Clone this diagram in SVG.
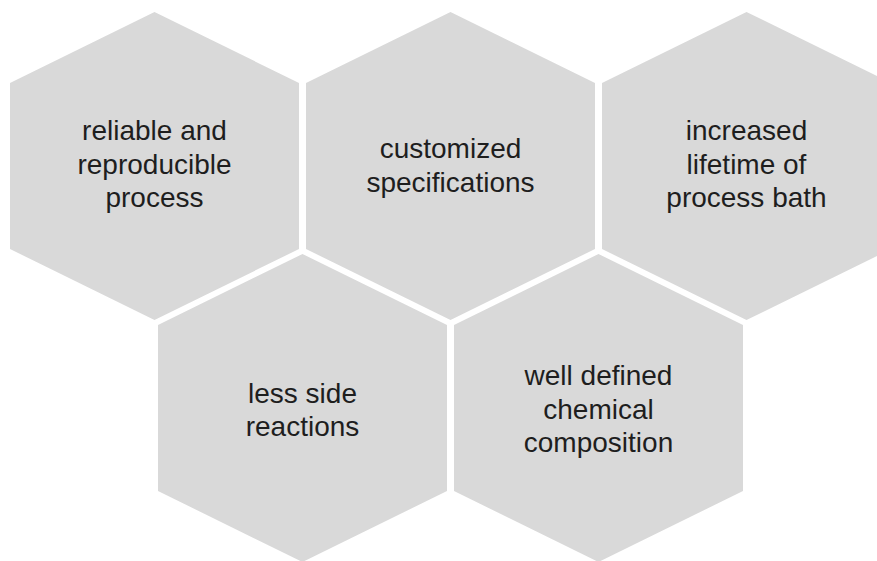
<svg xmlns="http://www.w3.org/2000/svg" xmlns:xlink="http://www.w3.org/1999/xlink" width="877" height="561" viewBox="0 0 877 561">
  <style>
    .hex { fill: #d9d9d9; }
    .lbl { font-family: "Liberation Sans", Arial, sans-serif; font-size: 28px; fill: #1e1e1e; text-anchor: middle; }
  </style>
  <defs>
    <polygon id="hexShape" points="0,-154 144.5,-83 144.5,83 0,154 -144.5,83 -144.5,-83"/>
  </defs>
  <rect width="877" height="561" fill="#ffffff"/>
  <g id="connectors"></g>
  <g id="node-reliable">
    <use xlink:href="#hexShape" class="hex" transform="translate(154.5,166)"/>
    <text class="lbl" x="154.5" y="140">reliable and</text>
    <text class="lbl" x="154.5" y="173.5">reproducible</text>
    <text class="lbl" x="154.5" y="207">process</text>
  </g>
  <g id="node-customized">
    <use xlink:href="#hexShape" class="hex" transform="translate(450.5,166)"/>
    <text class="lbl" x="450.5" y="158">customized</text>
    <text class="lbl" x="450.5" y="191.5">specifications</text>
  </g>
  <g id="node-lifetime">
    <use xlink:href="#hexShape" class="hex" transform="translate(746.5,166)"/>
    <text class="lbl" x="746.5" y="140">increased</text>
    <text class="lbl" x="746.5" y="173.5">lifetime of</text>
    <text class="lbl" x="746.5" y="207">process bath</text>
  </g>
  <g id="node-side-reactions">
    <use xlink:href="#hexShape" class="hex" transform="translate(302.5,408)"/>
    <text class="lbl" x="302.5" y="402.5">less side</text>
    <text class="lbl" x="302.5" y="435.5">reactions</text>
  </g>
  <g id="node-composition">
    <use xlink:href="#hexShape" class="hex" transform="translate(598.5,408)"/>
    <text class="lbl" x="598.5" y="385">well defined</text>
    <text class="lbl" x="598.5" y="418.5">chemical</text>
    <text class="lbl" x="598.5" y="452">composition</text>
  </g>
</svg>
